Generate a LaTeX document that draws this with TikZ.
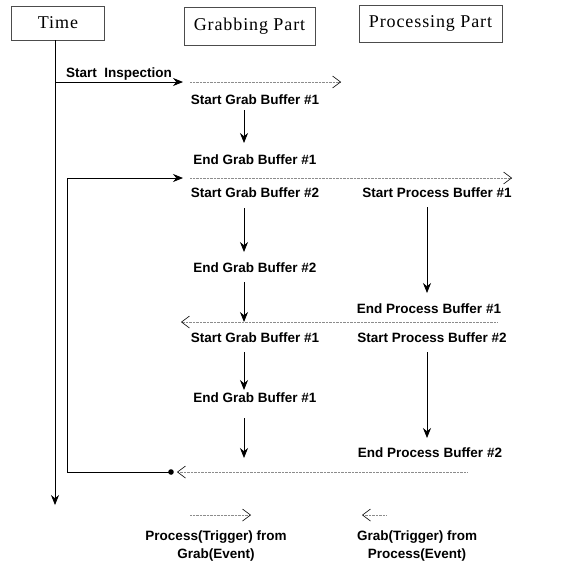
\documentclass[tikz,border=0pt]{standalone}
\usepackage{fontspec}
\setmainfont{Liberation Serif}
\setsansfont{Liberation Sans}
\usepackage{tikz}
\usetikzlibrary{arrows.meta}
\usetikzlibrary{positioning}
\tikzset{> = {Stealth[length=10pt, width=8pt]}, x = 1pt, y = -1pt,
  head/.style = {draw = black!70, thin, inner sep = 0pt,
    font = \fontsize{18}{20}\addfontfeature{LetterSpace=5}\selectfont},
  event/.style = {inner sep = 0pt, text height = 9.5pt, text depth = 0pt,
    font = \sffamily\bfseries\fontsize{13.5}{16}\selectfont},
  flow/.style = {->, line width = 0.8pt},
  trig/.style = {black!45, densely dotted, thin},
  barb/.style = {-{Straight Barb[length=8pt, width=12pt, black, line width=0.6pt]}}}

\begin{document}
\begin{tikzpicture}
  \useasboundingbox (0,0) rectangle (569,565);
  % headers
  \node [head, minimum width = 93pt, minimum height = 34pt] (time) at (58,23) {Time};
  \node [head, minimum width = 131pt, minimum height = 38pt] (grab) at (249.5,26) {Grabbing Part};
  \node [head, minimum width = 143pt, minimum height = 37pt] (proc) at (430.5,23.5) {Processing Part};
  % events
  \node [event] (si) at (119,73) {Start\ \ Inspection};
  \node [event] (sg1) at (255,100) {Start Grab Buffer \#1};
  \node [event] (eg1) at (255,160) {End Grab Buffer \#1};
  \node [event] (sg2) at (255,193) {Start Grab Buffer \#2};
  \node [event] (sp1) at (437,193) {Start Process Buffer \#1};
  \node [event] (eg2) at (255,268) {End Grab Buffer \#2};
  \node [event] (ep1) at (429,309) {End Process Buffer \#1};
  \node [event] (sg3) at (255,338) {Start Grab Buffer \#1};
  \node [event] (sp2) at (432,338) {Start Process Buffer \#2};
  \node [event] (eg3) at (255,398) {End Grab Buffer \#1};
  \node [event] (ep2) at (430,453) {End Process Buffer \#2};
  \node [event, align = center, text height = , text depth = ] (lgp) at (216,546)
    {Process(Trigger) from\\[2pt]Grab(Event)};
  \node [event, align = center, text height = , text depth = ] (lpg) at (417,546)
    {Grab(Trigger) from\\[2pt]Process(Event)};
  % points
  \coordinate (t0) at (55,40);   \coordinate (t1) at (55,505);
  \coordinate (s0) at (55,82);   \coordinate (s1) at (183,82);
  \coordinate (g0) at (244,110); \coordinate (g1) at (244,143);
  \coordinate (g2) at (244,208); \coordinate (g3) at (244,252);
  \coordinate (g4) at (244,282); \coordinate (g5) at (244,322);
  \coordinate (g6) at (244,352); \coordinate (g7) at (244,390);
  \coordinate (g8) at (244,418); \coordinate (g9) at (244,458);
  \coordinate (p0) at (427,207); \coordinate (p1) at (427,293);
  \coordinate (p2) at (427,352); \coordinate (p3) at (427,438);
  \coordinate (ld) at (171,472); \coordinate (li) at (183,178);
  \coordinate (lg0) at (190,515); \coordinate (lg1) at (251,515);
  \coordinate (lp0) at (386,515); \coordinate (lp1) at (362,515);
  % paths
  \draw [flow] (t0) -- (t1);
  \draw [flow] (s0) -- (s1);
  \draw [flow] (g0) -- (g1);
  \draw [flow] (g2) -- (g3);
  \draw [flow] (g4) -- (g5);
  \draw [flow] (g6) -- (g7);
  \draw [flow] (g8) -- (g9);
  \draw [flow] (p0) -- (p1);
  \draw [flow] (p2) -- (p3);
  \draw [flow] (ld) -- ++(-104,0) |- (li);
  \fill (ld) circle (2.8);
  % triggers
  \draw [trig, barb] (190,82) -- (341,82);
  \draw [trig, barb] (190,178) -- (512,178);
  \draw [trig, barb] (497,322) -- (181,322);
  \draw [trig, barb] (467,472) -- (177,472);
  \draw [trig, barb] (lg0) -- (lg1);
  \draw [trig, barb] (lp0) -- (lp1);
\end{tikzpicture}
\end{document}
